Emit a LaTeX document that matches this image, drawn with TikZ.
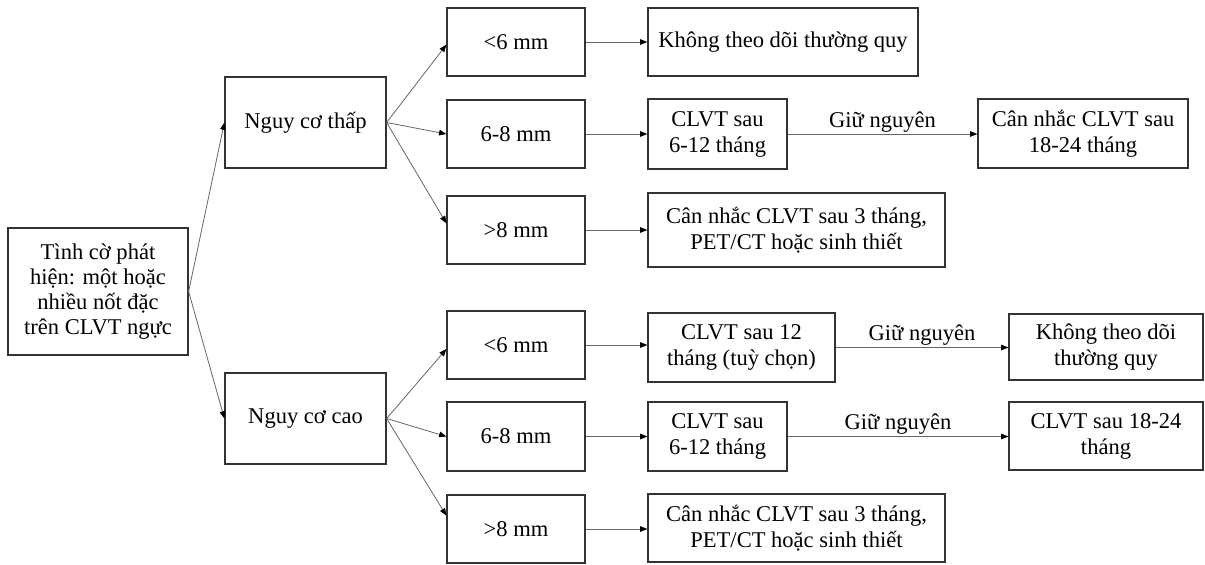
\documentclass[tikz,border=0pt]{standalone}
\usepackage{fontspec}
\setmainfont{Liberation Serif}
\usetikzlibrary{arrows.meta}

% \mkbox{name}{x1}{y1}{x2}{y2}{text}: framed box given by its corners
\newcommand\mkbox[6]{%
  \node[box, minimum width={((#4)-(#2))*0.75pt}, minimum height={((#5)-(#3))*0.75pt}]
    (#1) at ({((#2)+(#4))/2},{((#3)+(#5))/2}) {#6};}

\begin{document}
\begin{tikzpicture}[x=0.75pt, y=-0.75pt,
  box/.style={draw=black!80, line width=0.9pt, align=center, inner sep=0pt,
              font=\fontsize{16.9}{19.5}\selectfont},
  link/.style={draw=black!60, line width=0.6pt,
               -{Triangle[length=5.5pt, width=4.2pt, color=black]}},
  tag/.style={font=\fontsize{16.9}{19.5}\selectfont, inner sep=1.2pt}]
\useasboundingbox (0,0) rectangle (1205,564);

% starting point
\node[box, minimum width=135pt, minimum height=95.25pt,
      font=\fontsize{16.9}{18.75}\selectfont] (root) at (98,291.5)
  {Tình cờ phát\\hiện: một hoặc\\nhiều nốt đặc\\trên CLVT ngực};

% risk groups
\mkbox{low}{225}{77}{386}{168}{Nguy cơ thấp}
\mkbox{high}{225}{373}{386}{464}{Nguy cơ cao}

% nodule sizes, low risk
\mkbox{t1}{447}{8}{585}{76}{<6 mm}
\mkbox{t2}{447}{100}{585}{168}{6-8 mm}
\mkbox{t3}{447}{196}{585}{264}{>8 mm}

% nodule sizes, high risk
\mkbox{b1}{447}{311}{585}{379}{<6 mm}
\mkbox{b2}{447}{402}{585}{471}{6-8 mm}
\mkbox{b3}{447}{495}{585}{563}{>8 mm}

% follow-up, low risk
\mkbox{k1}{648}{8}{918}{76}{Không theo dõi thường quy}
\mkbox{c1}{648}{99}{787}{169}{CLVT sau\\6-12 tháng}
\mkbox{r1}{978}{99}{1188}{168}{Cân nhắc CLVT sau\\18-24 tháng}
\mkbox{p1}{648}{193}{945}{267}{Cân nhắc CLVT sau 3 tháng,\\PET/CT hoặc sinh thiết}

% follow-up, high risk
\mkbox{c2}{648}{313}{835}{382}{CLVT sau 12\\tháng (tuỳ chọn)}
\mkbox{r2}{1009}{314}{1203}{380}{Không theo dõi\\thường quy}
\mkbox{c3}{648}{402}{787}{471}{CLVT sau\\6-12 tháng}
\mkbox{r3}{1009}{402}{1203}{470}{CLVT sau 18-24\\tháng}
\mkbox{p2}{648}{494}{945}{562}{Cân nhắc CLVT sau 3 tháng,\\PET/CT hoặc sinh thiết}

% branches
\draw[link] (root.east) -- (low.west);
\draw[link] (root.east) -- (high.west);

\draw[link] (low.east) -- ([yshift=-2pt]t1.west);
\draw[link] (low.east) -- (t2.west);
\draw[link] (low.east) -- ([yshift=5pt]t3.west);

\draw[link] (high.east) -- ([yshift=-3pt]b1.west);
\draw[link] (high.east) -- (b2.west);
\draw[link] (high.east) -- ([yshift=10pt]b3.west);

% size to action
\draw[link] (t1.east) -- (t1.east -| k1.west);
\draw[link] (t2.east) -- (t2.east -| c1.west);
\draw[link] (t3.east) -- (t3.east -| p1.west);
\draw[link] (b1.east) -- (b1.east -| c2.west);
\draw[link] (b2.east) -- (b2.east -| c3.west);
\draw[link] (b3.east) -- (b3.east -| p2.west);

% stable nodules
\draw[link] (c1.east) -- node[tag, above] {Giữ nguyên} (c1.east -| r1.west);
\draw[link] (c2.east) -- node[tag, above] {Giữ nguyên} (c2.east -| r2.west);
\draw[link] (c3.east) -- node[tag, above] {Giữ nguyên} (c3.east -| r3.west);
\end{tikzpicture}
\end{document}
